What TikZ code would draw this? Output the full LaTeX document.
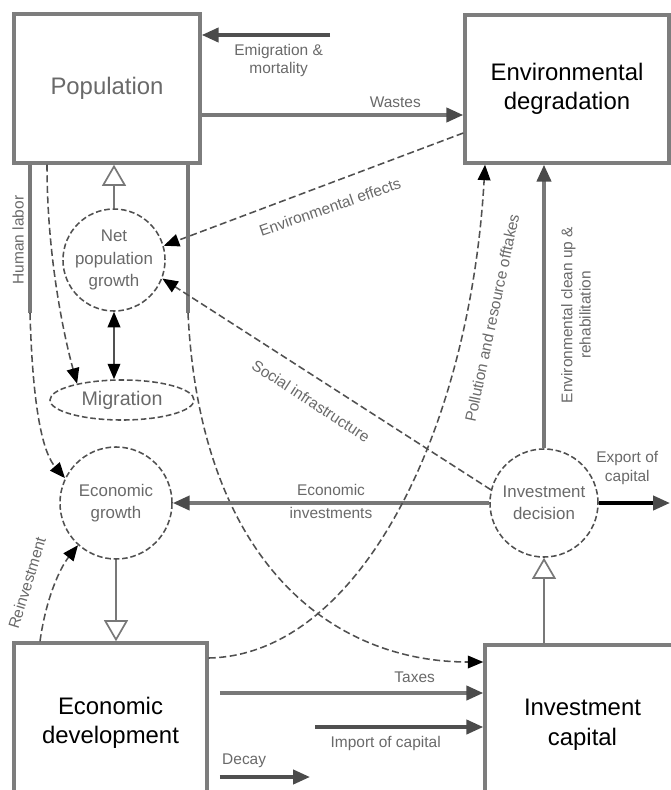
\documentclass[tikz,border=0pt]{standalone}
\usepackage{fontspec}
\setmainfont{Liberation Sans}
\usepackage{tikz}
\usetikzlibrary{arrows.meta,shapes.geometric}
\definecolor{boxgray}{RGB}{125,125,125}
\definecolor{linegray}{RGB}{120,120,120}
\definecolor{dashgray}{RGB}{80,80,80}
\definecolor{textgray}{RGB}{105,105,105}
\definecolor{tipgray}{RGB}{75,75,75}
\newcommand\boxfont{\fontsize{17}{21}\selectfont}
\newcommand\circfont{\fontsize{12}{16}\selectfont}
\newcommand\migfont{\fontsize{14}{16}\selectfont}
\newcommand\lblfont{\fontsize{11}{13}\selectfont}

\begin{document}
\begin{tikzpicture}[x=0.025cm,y=-0.025cm,
  box/.style={draw=boxgray,line width=2.4pt,inner sep=0pt,align=center,font=\boxfont},
  circ/.style={circle,draw=dashgray,dash pattern=on 4pt off 2pt,line width=1.1pt,
               inner sep=0pt,align=center,text=textgray,font=\circfont},
  flow/.style={line width=2.6pt,linegray,-{Triangle[length=12pt,width=10pt,color=tipgray]}},
  trunk/.style={line width=2.6pt,linegray},
  link/.style={dashgray,line width=1.1pt,dash pattern=on 5pt off 2.5pt,
               -{Triangle[length=11pt,width=9pt,black]}},
  hollow/.style={linegray,line width=1.2pt,-{Triangle[open,length=15pt,width=17pt,fill=white]}},
  lbl/.style={font=\lblfont,text=textgray,align=center,inner sep=2pt}]
  \useasboundingbox (0,0) rectangle (671,790);
  % stocks
  \node[box,text=textgray,minimum width=4.65cm,minimum height=3.725cm](pop) at (107,88.5) {Population};
  \node[box,minimum width=5.1cm,minimum height=3.7cm](env) at (567,89) {Environmental\\degradation};
  \node[box,minimum width=4.825cm,minimum height=4cm](ed) at (110.5,723) {Economic\\development};
  \node[box,minimum width=4.875cm,minimum height=4cm](ic) at (582.5,725) {Investment\\capital};
  % processes
  \node[circ,minimum size=2.55cm](npg) at (114,260) {Net\\population\\growth};
  \node[circ,ellipse,minimum width=3.6cm,minimum height=1cm,font=\migfont](mig) at (122,400) {Migration};
  \node[circ,minimum size=2.8cm](eg) at (116,503) {Economic\\growth};
  \node[circ,minimum size=2.7cm](id) at (544,503) {Investment\\decision};
  \coordinate (emi) at (330,35);
  \coordinate (expo) at (670,503);
  \coordinate (imp) at (315,727);
  \coordinate (dec) at (310,777);
  % population side
  \draw[flow,color=dashgray] (emi) -- (pop.east |- emi)
    node[lbl,pos=0.4,below=3pt](emil){Emigration \&\\mortality};
  \draw[flow] (pop.east |- 0,115) -- (env.west |- 0,115)
    node[lbl,pos=0.74,above=2pt](wasl){Wastes};
  \draw[link] (env.west |- 0,133) -- (npg.16);
  \node[lbl,rotate=19](envl) at (330,207) {Environmental effects};
  \draw[hollow] (npg.north) -- (npg.north |- pop.south);
  \draw[trunk] (pop.south -| 30,0) -- (30,313) coordinate (hl);
  \draw[link] (hl) .. controls (33,420) and (45,455) .. (eg.154);
  \node[lbl,rotate=90](hll) at (18,240) {Human labor};
  \draw[link] (pop.south -| 47,0) .. controls (47,260) and (65,340) .. (mig.160);
  \draw[trunk] (pop.south -| 188,0) -- (188,313) coordinate (tx);
  \draw[link] (tx) .. controls (200,560) and (330,662) .. (ic.west |- 0,662);
  \draw[{Triangle[length=11pt,width=9pt,black]}-{Triangle[length=11pt,width=9pt,black]},
        dashgray,line width=1.2pt] (npg.south) -- (npg.south |- mig.north);
  \draw[link] (id.166) -- (npg.339);
  \node[lbl,rotate=-33](socl) at (311,401) {Social infrastructure};
  % economy side
  \draw[flow] (id.west) -- (eg.east)
    node[lbl,pos=0.5,above=2pt](eil){Economic}
    node[lbl,pos=0.5,below=0pt](eil2){investments};
  \draw[hollow] (eg.south) -- (eg.south |- ed.north);
  \draw[link] (ed.north -| 40,0) .. controls (46,598) and (60,568) .. (eg.228);
  \node[lbl,rotate=73](reil) at (27,583) {Reinvestment};
  \draw[link] (ed.east |- 0,658) .. controls (360,655) and (470,430) .. (env.south -| 485,0);
  \node[lbl,rotate=78](poll) at (492,318) {Pollution and resource offtakes};
  \draw[flow] (id.north) -- (id.north |- env.south);
  \node[lbl,rotate=90](ecul) at (576,315) {Environmental clean up \&\\rehabilitation};
  \draw[flow,color=black] (id.east) -- (expo)
    node[lbl,pos=0.4,above=10pt](expl){Export of\\capital};
  \draw[hollow] (ic.north -| id.south) -- (id.south);
  \draw[flow,shorten <=8pt] (ed.east |- 0,693) -- (ic.west |- 0,693)
    node[lbl,pos=0.75,above=4pt](taxl){Taxes};
  \draw[flow,color=dashgray] (imp) -- (ic.west |- imp)
    node[lbl,pos=0.42,below=3pt](impl){Import of capital};
  \draw[flow,color=dashgray,shorten <=8pt] (ed.east |- 0,777) -- (dec)
    node[lbl,pos=0.35,above=3pt](decl){Decay};
\end{tikzpicture}
\end{document}
